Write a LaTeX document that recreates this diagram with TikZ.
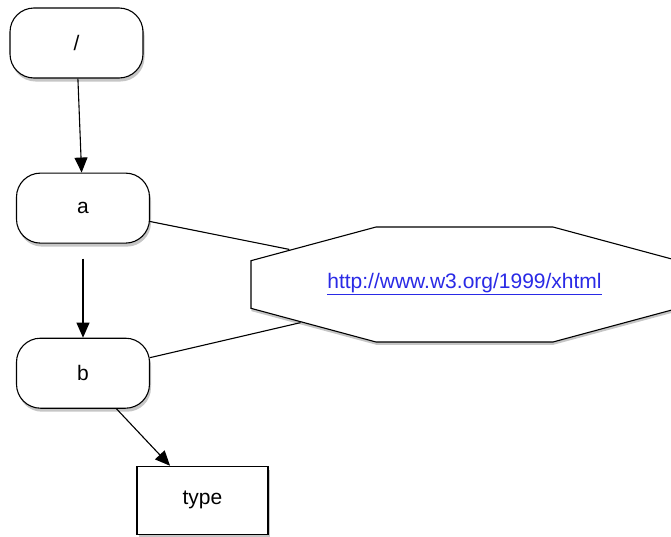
\documentclass[tikz,border=0pt]{standalone}
\usepackage{fontspec}
\setmainfont{Liberation Sans}
\usetikzlibrary{arrows.meta,positioning,shapes.geometric,shadows}
\definecolor{linkblue}{HTML}{2A2AE6}

\begin{document}
\begin{tikzpicture}[x=1pt,y=-1pt,node distance=94pt,
  term/.style={draw,line width=1.1pt,rounded corners=24pt,fill=white,minimum width=133pt,minimum height=70pt,font=\fontsize{21}{25}\selectfont,
    drop shadow={shadow xshift=1.5pt,shadow yshift=-3.5pt,opacity=.45}},
  leaf/.style={draw,line width=1.1pt,fill=white,minimum width=131pt,minimum height=68pt,font=\fontsize{21}{25}\selectfont,
    drop shadow={shadow xshift=1.5pt,shadow yshift=-3.5pt,opacity=.45}},
  ns/.style={regular polygon,regular polygon sides=8,minimum size=100pt,inner sep=0pt,xscale=4.622,yscale=1.245,transform shape,
    draw,line width=1.1pt,fill=white,font=\fontsize{21}{25}\selectfont,
    drop shadow={shadow xshift=0.35pt,shadow yshift=-2.8pt,opacity=.45}},
  ar/.style={-{Triangle[length=15pt,width=13pt]},line width=1.1pt},
  ln/.style={line width=1.1pt}]
\useasboundingbox (0,0) rectangle (671,536);
\node[term] (root) at (76.5,43) {/};
\node[term,below=of root,xshift=6.5pt] (a) {a};
\node[term,below=of a] (b) {b};
\node[leaf,below=57pt of b,xshift=119.5pt] (type) {type};
\begin{scope}[shift={(464.5,284.5)}]
\node[ns] (xhtml) {\scalebox{0.21636}[0.80321]{\textcolor{linkblue}{\underline{http://www.w3.org/1999/xhtml}}}};
\end{scope}
\draw[ar] (root)--(a);
\draw[ar,shorten <=15pt] (a)--(b);
\draw[ar] (b)--(type);
\draw[ln] (a)--(xhtml);
\draw[ln] (b)--(xhtml);
\end{tikzpicture}
\end{document}
